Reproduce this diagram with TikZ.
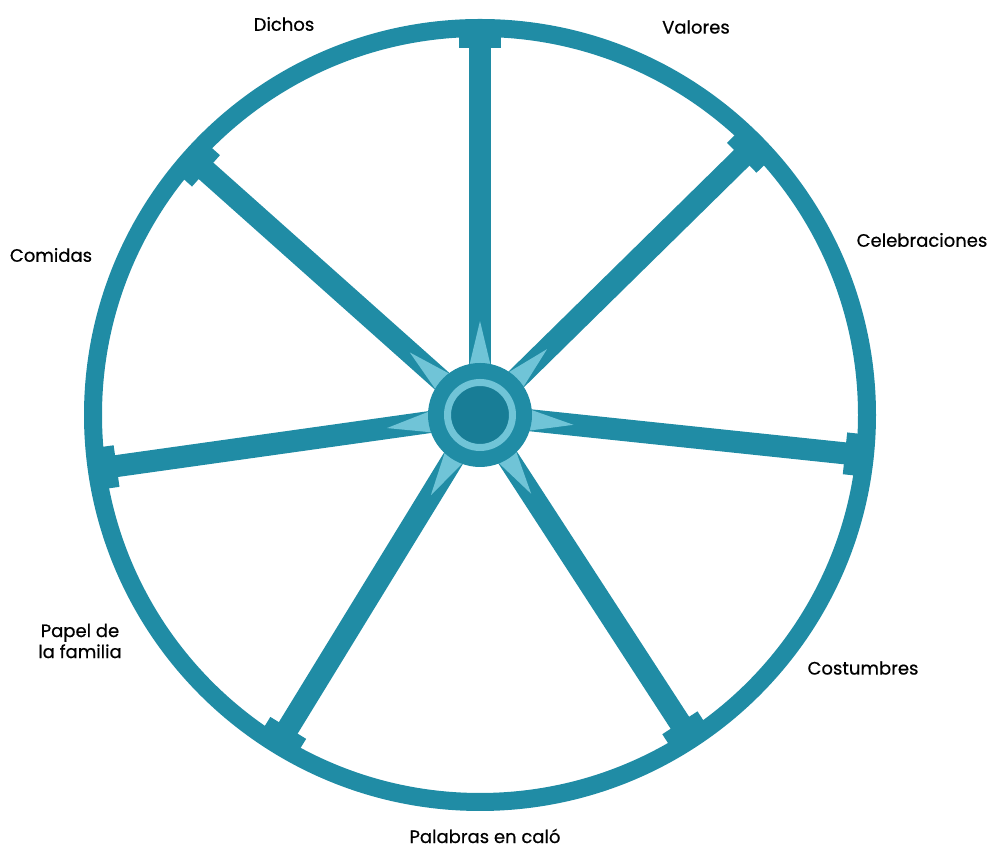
\documentclass[tikz,border=0pt]{standalone}
\usepackage{fontspec}
\setmainfont{Poppins}
\newfontfamily\lblfont[FakeBold=0.6]{Poppins}
\usetikzlibrary{calc}
\definecolor{teal1}{RGB}{32,140,165}
\definecolor{teal2}{RGB}{24,125,150}
\definecolor{lightteal}{RGB}{112,196,215}
\tikzset{
  spoke/.style={draw=teal1, line width=22pt, line cap=butt},
  rim/.style={draw=teal1, line width=18pt},
  tblock/.style={fill=teal1, inner sep=0pt, minimum width=42pt, minimum height=14pt},
  lbl/.style={font=\lblfont\fontsize{18}{21}\selectfont, text=black, inner sep=0pt, align=center},
  inlay/.style={fill=lightteal}
}
\begin{document}
\begin{tikzpicture}[x=1pt,y=1pt]
\useasboundingbox (0,0) rectangle (989,850);
\coordinate (c) at (480,435);
% rim
\draw[rim] (c) circle[radius=387];
% spokes
\foreach \a/\n in {90/top,44.5/ur,-6/r,-57/lr,-121.5/ll,188/l,138.3/ul}{
  \coordinate (e\n) at ($(c)+(\a:380)$);
  \draw[spoke] (c) -- (e\n);
  \node[tblock, rotate=\a+90] (t\n) at ($(c)+(\a:374)$) {};
  \fill[inlay] ($(c)+(\a:48)+(\a+90:11)$) -- ($(c)+(\a:94)$) -- ($(c)+(\a:48)+(\a-90:11)$) -- cycle;
}
% hub
\node[circle, fill=teal1, minimum size=104pt, inner sep=0pt] (hub) at (c) {};
\node[circle, draw=lightteal, line width=7pt, fill=teal2, minimum size=65pt, inner sep=0pt] (hubin) at (c) {};
% labels
\node[lbl] (dichos) at (284,826) {Dichos};
\node[lbl] (valores) at (696,823) {Valores};
\node[lbl] (celeb) at (922,610) {Celebraciones};
\node[lbl] (comidas) at (51,595) {Comidas};
\node[lbl] (papel) at (80,209) {Papel de\\la familia};
\node[lbl] (cost) at (863,182) {Costumbres};
\node[lbl] (palabras) at (485,14) {Palabras en caló};
\end{tikzpicture}
\end{document}
